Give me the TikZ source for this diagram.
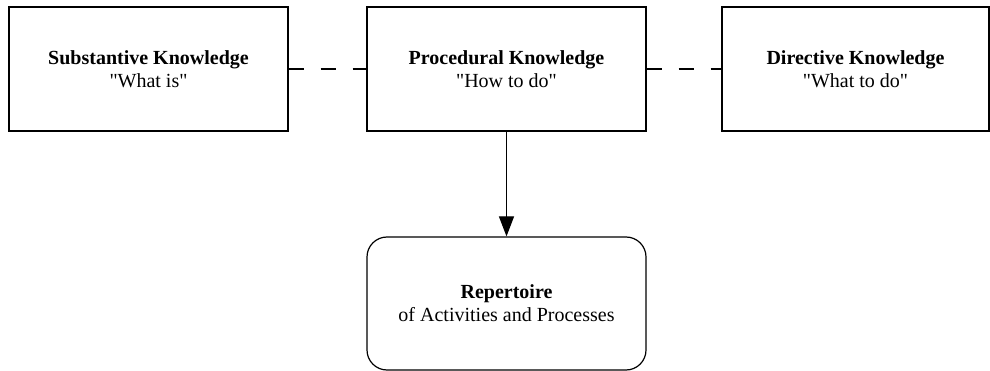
\documentclass[tikz,border=0pt]{standalone}
\usepackage{fontspec}
\setmainfont{Liberation Serif}
\usetikzlibrary{arrows.meta}

\begin{document}
\begin{tikzpicture}[x=1pt, y=-1pt, line width=1.2pt, >={Triangle[length=20pt, width=15pt]},
    font=\fontsize{20}{23}\selectfont,
    kbox/.style={draw, align=center, minimum width=279pt, minimum height=124pt, inner sep=0pt},
    repbox/.style={kbox, rounded corners=20pt, minimum height=133pt},
    link/.style={dash pattern=on 15pt off 17pt}]
  \useasboundingbox (0,0) rectangle (990,371);
  \node[kbox] (subst) at (148.5,69) {\textbf{Substantive Knowledge}\\\textquotedbl What is\textquotedbl};
  \node[kbox] (proc) at (506.5,69) {\textbf{Procedural Knowledge}\\\textquotedbl How to do\textquotedbl};
  \node[kbox, minimum width=267pt] (direct) at (855.5,69) {\textbf{Directive Knowledge}\\\textquotedbl What to do\textquotedbl};
  \node[repbox] (rep) at (506.5,303.5) {\textbf{Repertoire}\\of Activities and Processes};
  \draw[link] (subst) -- (proc);
  \draw[link] (proc) -- (direct);
  \draw[->] (proc) -- (rep);
\end{tikzpicture}
\end{document}
